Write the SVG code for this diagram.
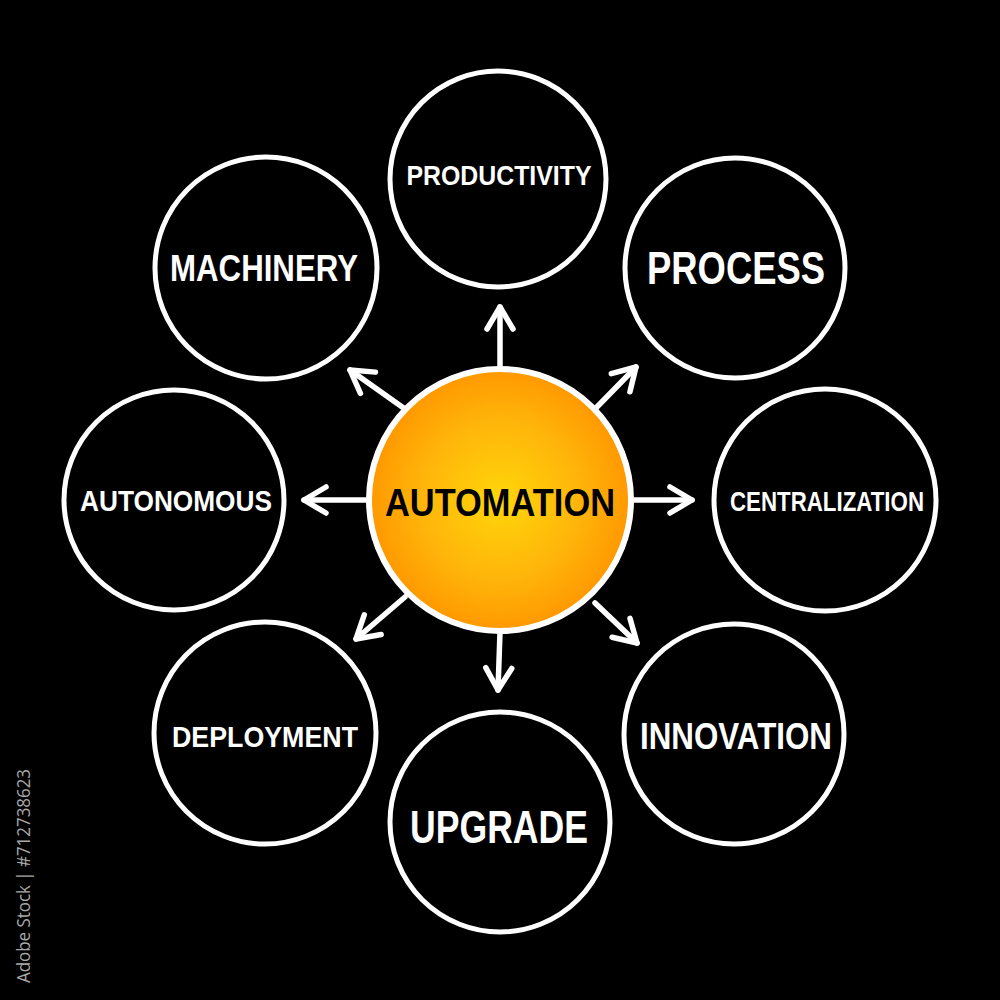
<svg xmlns="http://www.w3.org/2000/svg" width="1000" height="1000" viewBox="0 0 1000 1000">
<defs>
<radialGradient id="og" cx="0.5" cy="0.5" r="0.5">
<stop offset="0" stop-color="#FFD60A"/>
<stop offset="0.6" stop-color="#FFB50A"/>
<stop offset="1" stop-color="#FF9800"/>
</radialGradient>
<marker id="ah" viewBox="-5 -5 32 36" refX="22" refY="13" markerWidth="32" markerHeight="36" markerUnits="userSpaceOnUse" orient="auto">
<polyline points="0,0 22,13 0,26" fill="none" stroke="#fff" stroke-width="5.5" stroke-linecap="round" stroke-linejoin="round"/>
</marker>
<style>
.ring{fill:#000;stroke:#fff;stroke-width:5}
.lbl{font-family:"Liberation Sans",Arial,sans-serif;font-weight:bold;fill:#fff;text-anchor:middle}
.arr{stroke:#fff;stroke-width:5.5;stroke-linecap:round;fill:none;marker-end:url(#ah)}
</style>
</defs>
<rect width="1000" height="1000" fill="#000"/>
<text x="0" y="0" transform="translate(30,983) rotate(-90)" font-family="'Open Sans',sans-serif" font-size="18" fill="#a8a8a8" textLength="214" lengthAdjust="spacingAndGlyphs">Adobe Stock | #712738623</text>
<g id="connectors">
<line class="arr" x1="500" y1="368" x2="500" y2="307"/>
<line class="arr" x1="632" y1="500" x2="692" y2="500"/>
<line class="arr" x1="368" y1="500" x2="304" y2="500"/>
<line class="arr" x1="500" y1="632" x2="498" y2="690"/>
<line class="arr" x1="595" y1="409" x2="636" y2="367"/>
<line class="arr" x1="405" y1="409" x2="350" y2="370"/>
<line class="arr" x1="595" y1="603" x2="637" y2="643"/>
<line class="arr" x1="405" y1="597" x2="356" y2="639"/>
</g>
<g id="productivity"><circle class="ring" cx="498" cy="179" r="108"/><text class="lbl" x="499" y="185" font-size="28" textLength="185" lengthAdjust="spacingAndGlyphs">PRODUCTIVITY</text></g>
<g id="machinery"><circle class="ring" cx="266" cy="268" r="111"/><text class="lbl" x="264" y="281" font-size="36" textLength="188" lengthAdjust="spacingAndGlyphs">MACHINERY</text></g>
<g id="process"><circle class="ring" cx="735" cy="268" r="110"/><text class="lbl" x="736" y="284" font-size="46" textLength="178" lengthAdjust="spacingAndGlyphs">PROCESS</text></g>
<g id="centralization"><circle class="ring" cx="825" cy="500" r="111"/><text class="lbl" x="827" y="511" font-size="28" textLength="194" lengthAdjust="spacingAndGlyphs">CENTRALIZATION</text></g>
<g id="autonomous"><circle class="ring" cx="174" cy="500" r="110"/><text class="lbl" x="176" y="511" font-size="30" textLength="192" lengthAdjust="spacingAndGlyphs">AUTONOMOUS</text></g>
<g id="innovation"><circle class="ring" cx="734" cy="734" r="110"/><text class="lbl" x="736" y="749" font-size="36" textLength="192" lengthAdjust="spacingAndGlyphs">INNOVATION</text></g>
<g id="deployment"><circle class="ring" cx="265" cy="733" r="111"/><text class="lbl" x="265" y="747" font-size="30" textLength="186" lengthAdjust="spacingAndGlyphs">DEPLOYMENT</text></g>
<g id="upgrade"><circle class="ring" cx="500" cy="822" r="110"/><text class="lbl" x="499" y="843" font-size="46" textLength="178" lengthAdjust="spacingAndGlyphs">UPGRADE</text></g>
<g id="automation"><circle cx="500" cy="500" r="131" fill="url(#og)" stroke="#fff" stroke-width="6"/><text class="lbl" x="500" y="516" font-size="38" style="fill:#000" textLength="230" lengthAdjust="spacingAndGlyphs">AUTOMATION</text></g>
</svg>
